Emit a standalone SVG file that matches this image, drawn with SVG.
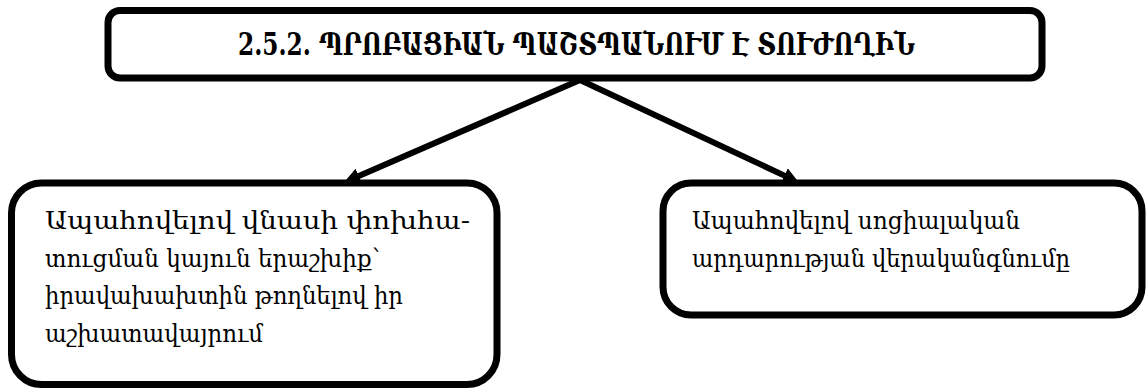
<svg xmlns="http://www.w3.org/2000/svg" width="1148" height="390" viewBox="0 0 1148 390">
<style>
.box{fill:#fff;stroke:#000;stroke-width:7}
.title{font-family:"DejaVu Serif","Noto Sans",serif;font-weight:bold;font-size:31px;fill:#000}
.txt{font-family:"DejaVu Serif","Noto Sans",serif;font-size:24px;fill:#000}
.conn{stroke:#000;stroke-width:6;fill:none;stroke-linecap:round}
</style>
<defs>
<marker id="ah" markerUnits="userSpaceOnUse" viewBox="0 -8 16 16" refX="0" refY="0" markerWidth="16" markerHeight="16" orient="auto">
<path d="M0,-8 L16,0 L0,8 z" fill="#000"/>
</marker>
</defs>
<rect width="1148" height="390" fill="#fff"/>
<g id="connectors">
<line class="conn" x1="580" y1="80" x2="358.8" y2="176" marker-end="url(#ah)"/>
<line class="conn" x1="580" y1="80" x2="784.4" y2="175.6" marker-end="url(#ah)"/>
</g>
<g id="node-title">
<rect class="box" x="108" y="10.5" width="934" height="67.5" rx="12"/>
<text class="title" x="238" y="55" textLength="677" lengthAdjust="spacingAndGlyphs">2.5.2. ՊՐՈԲԱՑԻԱՆ ՊԱՇՏՊԱՆՈՒՄ Է ՏՈՒԺՈՂԻՆ</text>
</g>
<g id="node-left">
<rect class="box" x="11.5" y="183" width="485.5" height="201.5" rx="30"/>
<text class="txt" x="45" y="229" textLength="425" lengthAdjust="spacingAndGlyphs">Ապահովելով վնասի փոխհա-</text>
<text class="txt" x="45" y="266.5" textLength="335" lengthAdjust="spacingAndGlyphs">տուցման կայուն երաշխիք՝</text>
<text class="txt" x="45" y="304" textLength="358" lengthAdjust="spacingAndGlyphs">իրավախախտին թողնելով իր</text>
<text class="txt" x="45" y="341.5" textLength="218" lengthAdjust="spacingAndGlyphs">աշխատավայրում</text>
</g>
<g id="node-right">
<rect class="box" x="663" y="183" width="479" height="132" rx="28"/>
<text class="txt" x="692" y="229" textLength="328" lengthAdjust="spacingAndGlyphs">Ապահովելով սոցիալական</text>
<text class="txt" x="692" y="267" textLength="378" lengthAdjust="spacingAndGlyphs">արդարության վերականգնումը</text>
</g>
</svg>
